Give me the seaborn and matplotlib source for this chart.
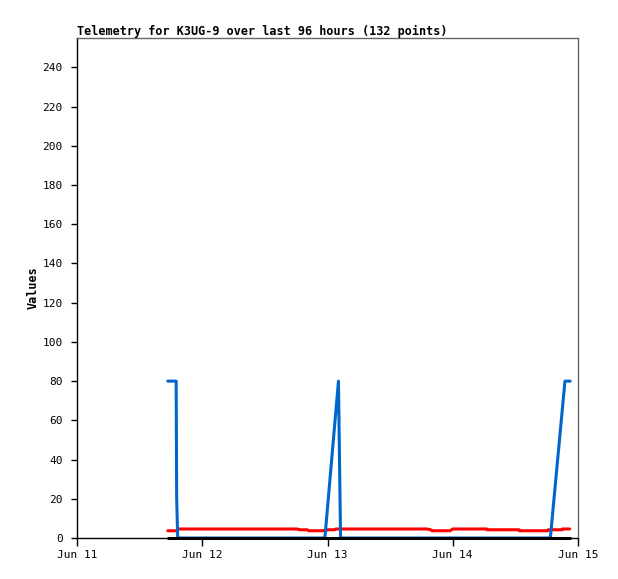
import matplotlib
matplotlib.use('Agg')
import matplotlib.pyplot as plt
import matplotlib.dates as mdates
import seaborn as sns
import pandas as pd

# hours after Jun 11 00:00 and values
start = pd.Timestamp("2023-06-11 00:00")

red_hours = [17.4, 19.2, 19.35, 42.1, 42.7, 44.1, 44.4, 47.1, 48.1, 49.4, 49.6,
             67.0, 67.8, 68.0, 71.5, 72.0, 78.5, 78.6, 84.7, 84.8, 90.2, 90.3,
             92.9, 93.0, 94.4]
red_vals = [3.7, 3.7, 4.6, 4.6, 4.2, 4.2, 3.7, 3.7, 4.2, 4.2, 4.6,
            4.6, 4.2, 3.7, 3.7, 4.6, 4.6, 4.2, 4.2, 3.7, 3.7, 4.2,
            4.2, 4.6, 4.6]

blue_hours = [17.4, 19.0, 19.1, 19.3, 47.5, 50.1, 50.3, 50.5, 90.7, 93.5, 94.5]
blue_vals = [80, 80, 20, 0, 0, 80, 40, 0, 0, 80, 80]

black_hours = [17.4, 94.5]
black_vals = [0, 0]

sns.set_style("ticks")
plt.rcParams["text.color"] = "black"
plt.rcParams["axes.labelcolor"] = "black"
plt.rcParams["xtick.color"] = "black"
plt.rcParams["ytick.color"] = "black"
mono = ["DejaVu Sans Mono"]

fig = plt.figure(figsize=(6.18, 5.79), dpi=100)
ax = fig.add_axes([77/618, 41/579, 501/618, 500/579])

series = [(red_hours, red_vals, "#ff0000"),
          (blue_hours, blue_vals, "#0066cc"),
          (black_hours, black_vals, "#000000")]
for hrs, vals, col in series:
    df = pd.DataFrame({"time": start + pd.to_timedelta(hrs, unit="h"), "value": vals})
    sns.lineplot(data=df, x="time", y="value", color=col, linewidth=2.2,
                 estimator=None, sort=False, ax=ax)
for ln in ax.lines:
    ln.set_clip_on(False)

ax.set_xlim(start, start + pd.Timedelta(hours=96))
ax.set_ylim(0, 255)
ax.set_yticks(range(0, 241, 20))
ax.xaxis.set_major_locator(mdates.DayLocator())
ax.xaxis.set_major_formatter(mdates.DateFormatter("%b %d"))

ax.set_xlabel("")
ax.set_ylabel("Values", fontsize=8.5, fontweight="bold", family=mono, labelpad=2)
ax.set_title("Telemetry for K3UG-9 over last 96 hours (132 points)", loc="left",
             fontsize=8.5, fontweight="bold", family=mono, pad=2)

ax.tick_params(axis="y", length=4.3, width=1, pad=6, labelsize=8)
ax.tick_params(axis="x", length=5.8, width=1, pad=3, labelsize=8)
for lab in ax.get_xticklabels() + ax.get_yticklabels():
    lab.set_family(mono)

for side in ["left", "bottom"]:
    ax.spines[side].set_color("black")
    ax.spines[side].set_linewidth(1)
for side in ["top", "right"]:
    ax.spines[side].set_visible(True)
    ax.spines[side].set_color("#666666")
    ax.spines[side].set_linewidth(1)

fig.savefig("out.png", dpi=100)
